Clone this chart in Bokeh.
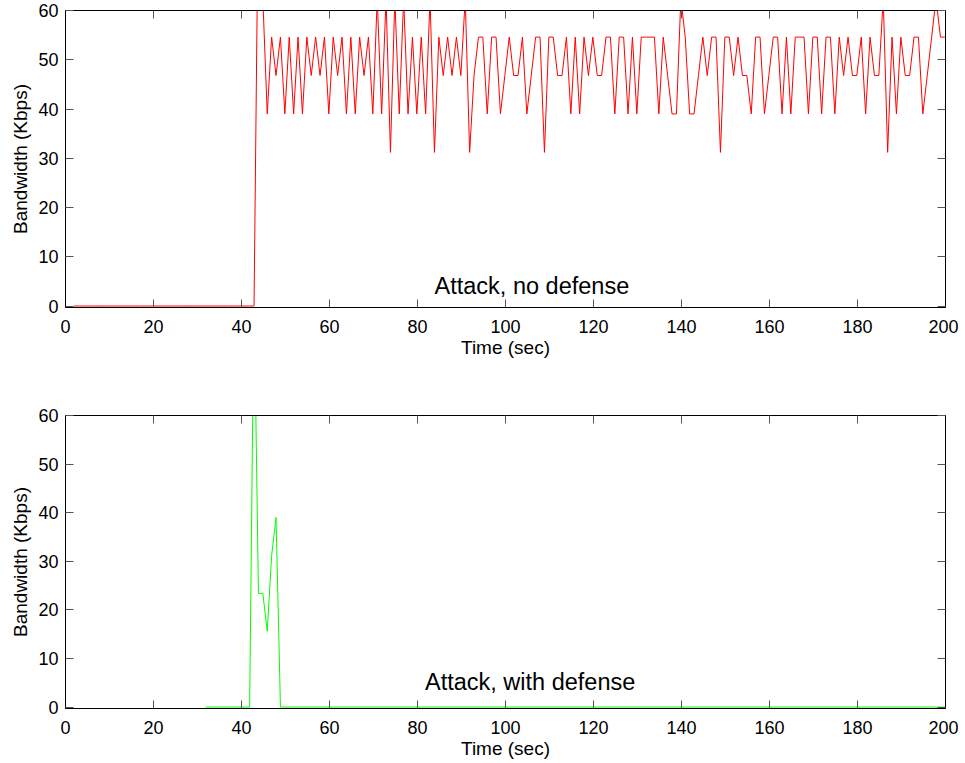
from bokeh.plotting import figure
from bokeh.layouts import column
from bokeh.models import LinearAxis, FixedTicker, Range1d, Label
from bokeh.embed import file_html
from bokeh.resources import INLINE

# ---- data ----
sample_offset = 0.85  # samples taken at n + 0.85 s
red_first_n = 1
red_bw = [0.0] * 42 + [
    85.8, 62.4, 39.0, 54.6, 46.8, 54.6, 39.0, 54.6, 39.0, 54.6,   # 43-52
    39.0, 54.6, 46.8, 54.6, 46.8, 54.6, 39.0, 54.6, 46.8, 54.6,   # 53-62
    39.0, 54.6, 39.0, 54.6, 46.8, 54.6, 39.0, 62.4, 39.0, 62.4,   # 63-72
    31.2, 62.4, 39.0, 62.4, 39.0, 54.6, 39.0, 54.6, 39.0, 62.4,   # 73-82
    31.2, 54.6, 46.8, 54.6, 46.8, 54.6, 46.8, 62.4, 31.2, 46.8,   # 83-92
    54.6, 54.6, 39.0, 54.6, 54.6, 39.0, 46.8, 54.6, 46.8, 46.8,   # 93-102
    54.6, 39.0, 46.8, 54.6, 54.6, 31.2, 54.6, 54.6, 46.8, 46.8,   # 103-112
    54.6, 39.0, 54.6, 39.0, 54.6, 46.8, 54.6, 46.8, 46.8, 54.6,   # 113-122
    54.6, 39.0, 54.6, 54.6, 39.0, 54.6, 39.0, 54.6, 54.6, 54.6,   # 123-132
    54.6, 39.0, 54.6, 46.8, 39.0, 39.0, 62.4, 54.6, 39.0, 39.0,   # 133-142
    46.8, 54.6, 46.8, 54.6, 54.6, 31.2, 54.6, 54.6, 46.8, 54.6,   # 143-152
    46.8, 46.8, 39.0, 54.6, 54.6, 39.0, 46.8, 54.6, 54.6, 39.0,   # 153-162
    54.6, 39.0, 54.6, 54.6, 54.6, 39.0, 54.6, 54.6, 39.0, 54.6,   # 163-172
    54.6, 39.0, 54.6, 46.8, 54.6, 46.8, 46.8, 54.6, 39.0, 54.6,   # 173-182
    46.8, 46.8, 62.4, 31.2, 54.6, 39.0, 54.6, 46.8, 46.8, 54.6,   # 183-192
    54.6, 39.0, 46.8, 54.6, 62.4, 54.6, 54.6,                     # 193-199
]
red_t = [red_first_n + i + sample_offset for i in range(len(red_bw))]

green_first_n = 31
green_bw = [0.0] * 11 + [85.8, 23.4, 23.4, 15.6, 31.2, 39.0] + [0.0] * 152
green_t = [green_first_n + i + sample_offset for i in range(len(green_bw))]

x_ticks = [0, 20, 40, 60, 80, 100, 120, 140, 160, 180, 200]
y_ticks = [0, 10, 20, 30, 40, 50, 60]
titles = ["Attack, no defense", "Attack, with defense"]
title_pos = [(106.0, 4.0), (105.6, 5.2)]

FONT = "Liberation Sans"


def style_axis(ax, ticks, labels=True):
    ax.ticker = FixedTicker(ticks=ticks)
    ax.minor_tick_line_color = None
    ax.major_tick_in = 8
    ax.major_tick_out = 0
    ax.major_tick_line_color = "#555555"
    ax.axis_line_color = "black"
    ax.axis_line_width = 1
    if labels:
        ax.major_label_text_font = FONT
        ax.major_label_text_font_size = "18px"
        ax.major_label_text_color = "black"
        ax.axis_label_text_font = FONT
        ax.axis_label_text_font_size = "19px"
        ax.axis_label_text_font_style = "normal"
        ax.axis_label_text_color = "black"
    else:
        ax.major_label_text_font_size = "1px"
        ax.major_label_text_color = None
        ax.major_label_standoff = 0
        ax.axis_label = None


def make_panel(t, bw, color, title, tpos, height, b_top, b_bottom):
    p = figure(width=958, height=height, output_backend="svg", toolbar_location=None,
               x_range=Range1d(0, 200), y_range=Range1d(-0.3, 60),
               min_border_left=65, min_border_right=13,
               min_border_top=b_top, min_border_bottom=b_bottom)
    p.xgrid.visible = False
    p.ygrid.visible = False
    p.outline_line_color = "black"
    p.background_fill_color = "white"
    p.border_fill_color = "white"
    p.xaxis.axis_label = "Time (sec)"
    p.yaxis.axis_label = "Bandwidth (Kbps)"
    style_axis(p.xaxis[0], x_ticks)
    style_axis(p.yaxis[0], y_ticks)
    p.xaxis.axis_line_color = None
    p.xaxis.major_label_standoff = 12
    p.xaxis.axis_label_standoff = 1
    p.yaxis.major_label_standoff = 7
    p.yaxis.axis_label_standoff = 4
    top = LinearAxis()
    style_axis(top, x_ticks, labels=False)
    p.add_layout(top, "above")
    right = LinearAxis()
    style_axis(right, y_ticks, labels=False)
    p.add_layout(right, "right")
    p.line(t, bw, line_color=color, line_width=1)
    p.add_layout(Label(x=tpos[0], y=tpos[1], text=title, text_align="center",
                       text_baseline="alphabetic", text_font=FONT,
                       text_font_size="23.5px", text_color="black"))
    return p


p1 = make_panel(red_t, red_bw, "#ff0000", titles[0], title_pos[0], 388, 10, 81)
p2 = make_panel(green_t, green_bw, "#00ff00", titles[1], title_pos[1], 375, 27, 55)

layout = column(p1, p2, spacing=0)
open("out.html", "w").write(file_html(layout, INLINE))
